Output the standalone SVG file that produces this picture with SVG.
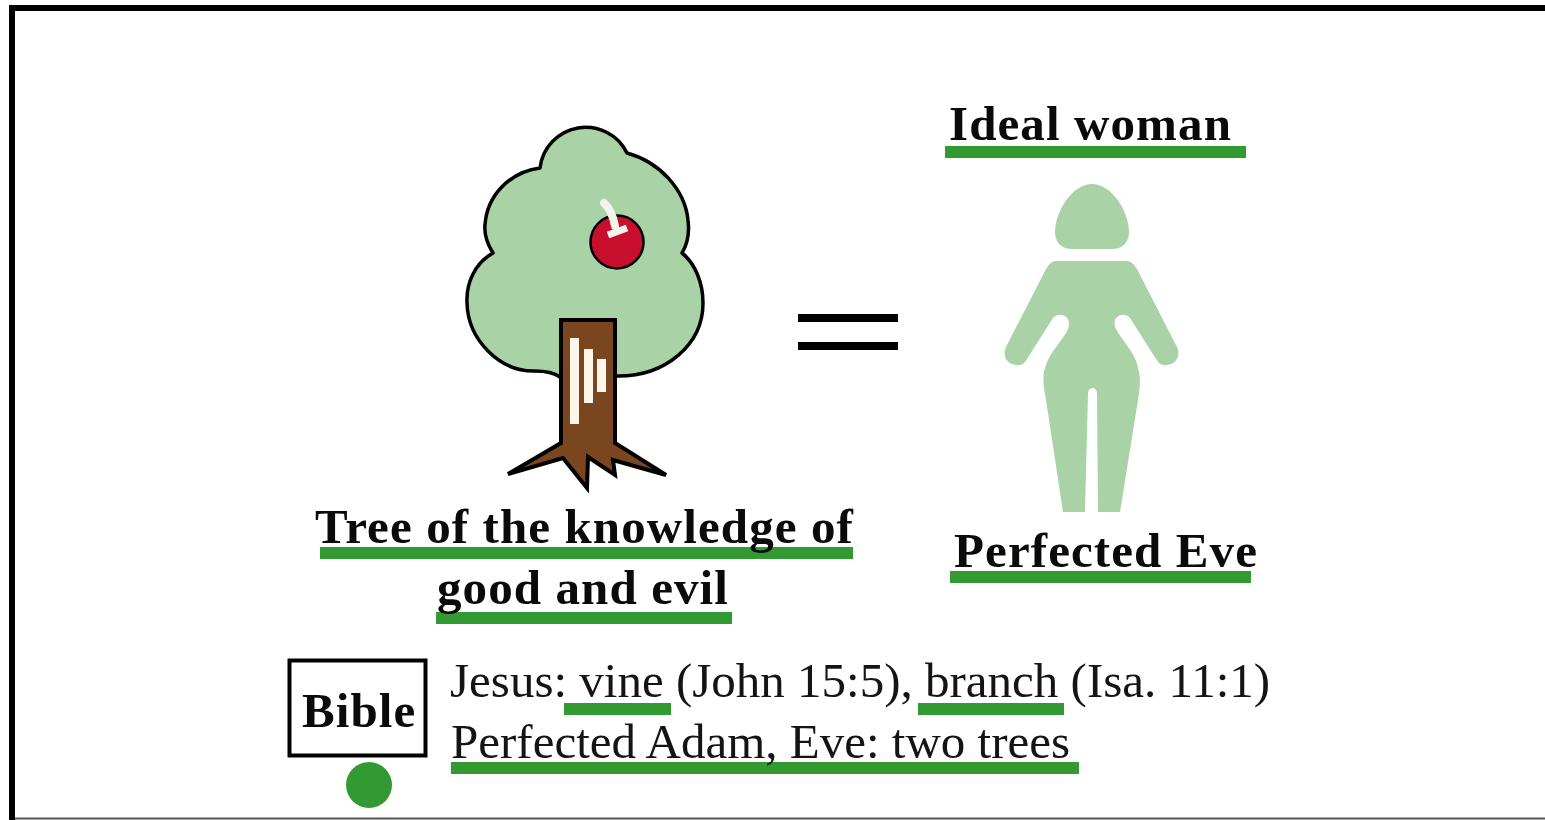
<svg xmlns="http://www.w3.org/2000/svg" width="1545" height="820" viewBox="0 0 1545 820">
<style>
.b{font-family:"Liberation Serif","Times New Roman",serif;font-weight:bold;fill:#0a0a0a;font-size:49px;letter-spacing:1.1px}
.r{font-family:"Liberation Serif","Times New Roman",serif;fill:#141414;font-size:49px}
.g{fill:#339933}
</style>
<rect width="1545" height="820" fill="#fff"/>
<g id="frame"><path d="M1545 8H12V820" fill="none" stroke="#000" stroke-width="6"/><path d="M15 818.500H1545" stroke="#555" stroke-width="2"/></g>
<g id="tree">
<path d="M616 376C665 377 703 345 703 303C703 283 695 263 682 253C690 240 689 228 688 220C685 190 660 162 627 153A46 46 0 0 0 540 168C510 172 487 195 485 225C484 235 488 245 493 253C475 263 466 283 467 303C468 340 500 372 535 371C545 371 553 372 560 377Z" fill="#a9d3a6" stroke="#000" stroke-width="3.500" stroke-linejoin="round"/>
<path d="M561 320H615V443L666 475L613 460L615 475L588 457L587 488L563 458L508 474L561 443Z" fill="#7a4620" stroke="#000" stroke-width="4" stroke-linejoin="miter"/>
<g fill="#fff6ea"><rect x="570" y="338" width="9" height="86"/><rect x="584" y="349" width="9" height="54"/><rect x="597" y="359" width="9" height="33"/></g>
<circle cx="617" cy="242" r="26.500" fill="#c8102e" stroke="#000" stroke-width="2.500"/>
<path d="M604 203Q612 210 615 226" fill="none" stroke="#f4f4ec" stroke-width="8" stroke-linecap="round"/>
<path d="M608 235L627 228" stroke="#f4f4ec" stroke-width="7"/>
</g>
<g id="equals"><rect x="798" y="314" width="100" height="8"/><rect x="798" y="342" width="100" height="8"/></g>
<g id="woman">
<path d="M1092 184C1112 184 1129 212 1129 232C1129 243 1122 249 1112 249H1072C1062 249 1055 243 1055 232C1055 212 1072 184 1092 184Z" fill="#a9d3a6"/>
<path d="M1056 261H1126C1131 261 1134 264 1137 269L1177 347C1181 356 1176 364 1167 365C1162 366 1159 364 1156 359L1130 318C1124 311 1110 316 1116 329C1122 341 1136 353 1138 368C1141 378 1140 388 1138 400L1120 512H1098L1097 394C1097 386 1088 386 1088 394L1085 512H1063L1046 400C1043 385 1042 375 1046 365C1050 352 1063 340 1068 329C1073 316 1059 311 1053 318L1027 359C1024 364 1021 366 1016 365C1007 364 1002 356 1006 347L1046 269C1049 264 1052 261 1056 261Z" fill="#a9d3a6"/>
</g>
<g id="title">
<rect class="g" x="945" y="146" width="301" height="12"/>
<text class="b" x="949" y="140">Ideal woman</text>
</g>
<g id="tree-label">
<rect class="g" x="320" y="547" width="533" height="12"/>
<rect class="g" x="436" y="612" width="296" height="12"/>
<text class="b" x="315" y="543">Tree of the knowledge of</text>
<text class="b" x="437" y="604">good and evil</text>
</g>
<g id="eve-label">
<rect class="g" x="950" y="571" width="301" height="12"/>
<text class="b" x="954" y="567">Perfected Eve</text>
</g>
<g id="bible">
<rect x="289.500" y="660.500" width="136" height="95" fill="#fff" stroke="#000" stroke-width="4"/>
<text class="b" x="302" y="727">Bible</text>
</g>
<circle id="dot" class="g" cx="369" cy="785" r="23"/>
<g id="verses">
<rect class="g" x="564" y="703" width="107" height="12"/>
<rect class="g" x="918" y="703" width="146" height="12"/>
<rect class="g" x="451" y="762" width="628" height="12"/>
<text class="r" x="450" y="697">Jesus: vine (John 15:5), branch (Isa. 11:1)</text>
<text class="r" x="451" y="758">Perfected Adam, Eve: two trees</text>
</g>
</svg>
